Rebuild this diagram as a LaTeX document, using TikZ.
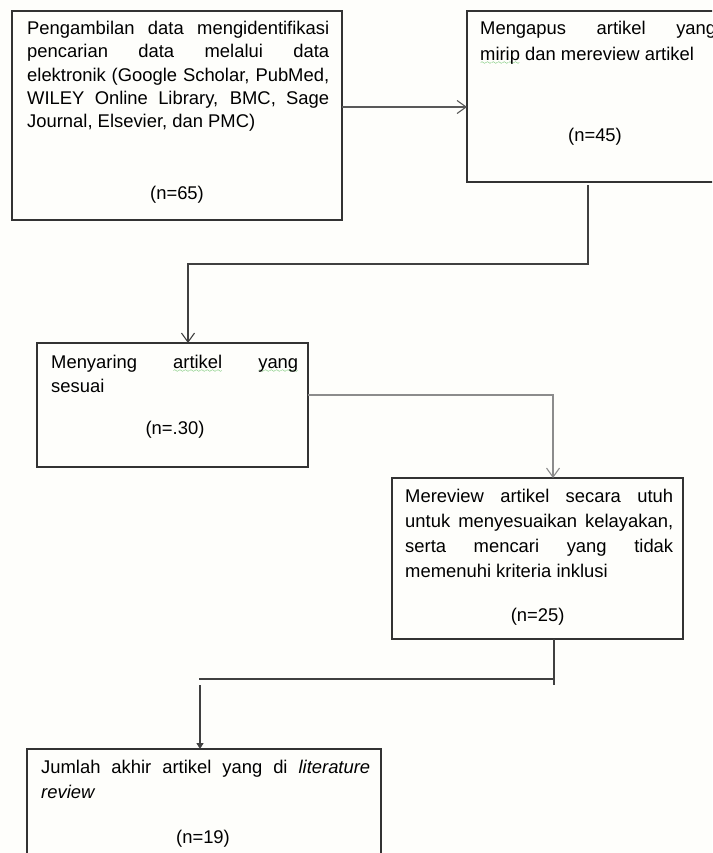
\documentclass[tikz,border=0pt]{standalone}
\usepackage{fontspec}
\setmainfont{Liberation Sans}
\usetikzlibrary{arrows.meta}
\hyphenpenalty=10000
\exhyphenpenalty=10000
\definecolor{latar}{RGB}{254,254,251}
\font\gelombang=lasy6
\newcommand\ejaan[1]{\leavevmode\setbox0\hbox{#1}\rlap{\lower4.5pt\hbox to\wd0{\color{green!60!black}\xleaders\hbox{\gelombang\char58}\hfill}}\box0\relax}

\begin{document}
\begin{tikzpicture}[x=1pt, y=-1pt,
		kotak/.style={draw=black!80, line width=1.5pt, inner sep=0pt, outer sep=0pt},
		teks/.style={anchor=base west, inner sep=0pt, align=justify, font=\fontsize{18.4}{#1}\selectfont},
		teks/.default=24,
		jumlah/.style={anchor=base, inner sep=0pt, font=\fontsize{18.4}{22}\selectfont},
		garis/.style={line width=1.3pt, color=black!75},
		panah/.style={garis, -{Straight Barb[length=9pt, width=13pt, line width=1.1pt]}}]
			%%%%% START %%%%%
			
			\path[use as bounding box, clip] (0, 0) rectangle (712, 853);
			\fill[latar] (0, 0) rectangle (712, 853);
			
			% kotak-kotak
			\node[kotak, minimum width=330, minimum height=209] (ambil) at (177, 115.5) {};
			\node[kotak, minimum width=263, minimum height=171] (hapus) at (598.5, 96.5) {};
			\node[kotak, minimum width=271, minimum height=124] (saring) at (172.5, 405) {};
			\node[kotak, minimum width=291, minimum height=161] (review) at (537.5, 558.5) {};
			\node[kotak, minimum width=354, minimum height=131] (akhir) at (204, 814.5) {};
			
			% isi
			\node[teks=23.4, text width=302] (ambil-t) at (27, 34.3) {Pengambilan data mengidentifikasi\linebreak pencarian data melalui data\linebreak elektronik (Google Scholar, PubMed,\linebreak WILEY Online Library, BMC, Sage\linebreak Journal, Elsevier, dan PMC)};
			\node[jumlah] (ambil-n) at (177, 199) {(n=65)};
			
			\node[teks=26, text width=236] (hapus-t) at (480, 34.3) {Mengapus artikel yang\linebreak \ejaan{mirip} dan mereview artikel};
			\node[jumlah] (hapus-n) at (595, 141.7) {(n=45)};
			
			\node[teks, text width=247] (saring-t) at (51, 368) {Menyaring \ejaan{artikel} \ejaan{yang}\linebreak sesuai};
			\node[jumlah] (saring-n) at (175, 434) {(n=.30)};
			
			\node[teks=25, text width=268] (review-t) at (405, 502.7) {Mereview artikel secara utuh\linebreak untuk menyesuaikan kelayakan,\linebreak serta mencari yang tidak\linebreak memenuhi kriteria inklusi};
			\node[jumlah] (review-n) at (537.7, 621.7) {(n=25)};
			
			\node[teks=25, text width=329] (akhir-t) at (41, 773.3) {Jumlah akhir artikel yang di \textit{literature}\linebreak \textit{review}};
			\node[jumlah] (akhir-n) at (203, 843) {(n=19)};
			
			% panah
			\coordinate (a1) at (0, 107);
			\draw[panah, color=black!65] (ambil.east |- a1) -- (hapus.west |- a1);
			
			\coordinate (b1) at (588, 264);
			\coordinate (b2) at (188, 264);
			\draw[panah, shorten <=3pt] (hapus.south -| b1) -- (b1) -- (b2) -- (saring.north -| b2);
			
			\coordinate (c1) at (553, 395);
			\draw[panah, line width=2.3pt, color=black!45] (saring.east |- c1) -- (c1) -- (review.north -| c1);
			
			\coordinate (d1) at (554, 685);
			\coordinate (d2) at (199, 679);
			\coordinate (d3) at (200, 685);
			\draw[garis] (review.south -| d1) -- (d1);
			\draw[garis] (d2) -- (d2 -| d1);
			\draw[garis, -{Triangle[length=6pt, width=7pt]}] (d3) -- (akhir.north -| d3);
			
			%%%%% END %%%%%
\end{tikzpicture}
\end{document}
